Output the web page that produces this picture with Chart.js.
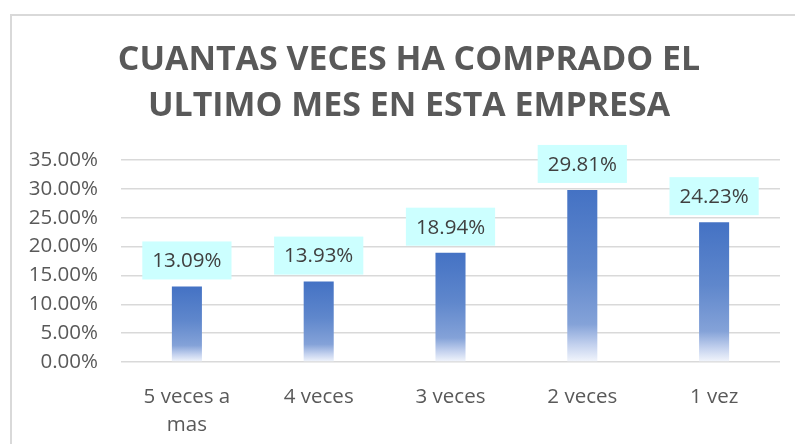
<!DOCTYPE html>
<html>
<head>
<meta charset="utf-8">
<script src="https://cdn.jsdelivr.net/npm/chart.js@4.4.0/dist/chart.umd.min.js"></script>
<style>
  html, body { margin: 0; padding: 0; background: #fff; overflow: hidden; }
  #frame {
    position: absolute; left: 10px; top: 14px;
    width: 800px; height: 500px;
    border: 2px solid #d9d9d9;
  }
  #wrap { position: absolute; left: 0; top: 0; width: 795px; height: 444px; }
</style>
</head>
<body>
<div id="frame"></div>
<div id="wrap"><canvas id="myChart" width="795" height="444"></canvas></div>
<script>
// Datos del grafico
const categorias = [['5 veces a', 'mas'], '4 veces', '3 veces', '2 veces', '1 vez'];
const porcentajes = [13.09, 13.93, 18.94, 29.81, 24.23];
const ticksY = [0, 5, 10, 15, 20, 25, 30, 35];

const FONT = '"Open Sans", sans-serif';

// Degradado de cada barra (azul arriba, casi blanco abajo)
function barGradient(context) {
  const chart = context.chart;
  const { ctx, chartArea, scales } = chart;
  if (!chartArea) return '#4472C4';
  const value = context.raw;
  const top = scales.y.getPixelForValue(value);
  const base = scales.y.getPixelForValue(0);
  const g = ctx.createLinearGradient(0, top, 0, base);
  g.addColorStop(0, '#4472C4');
  g.addColorStop(0.45, '#5f87cc');
  g.addColorStop(0.78, '#84a2d8');
  g.addColorStop(0.9, '#c3d1ee');
  g.addColorStop(1, '#f3f6fc');
  return g;
}

// Centrar el titulo sobre el marco (no sobre todo el canvas)
const titleShift = {
  id: 'titleShift',
  afterLayout(chart) {
    if (chart.titleBlock) {
      chart.titleBlock.left = 38;
      chart.titleBlock.right = chart.chartArea.right;
    }
  }
};

// Etiquetas de datos con caja celeste
const dataLabels = {
  id: 'dataLabels',
  afterDatasetsDraw(chart) {
    const { ctx } = chart;
    const meta = chart.getDatasetMeta(0);
    ctx.save();
    ctx.font = '20.5px ' + FONT;
    ctx.textAlign = 'center';
    ctx.textBaseline = 'middle';
    meta.data.forEach((bar, i) => {
      const txt = porcentajes[i].toFixed(2) + '%';
      const w = ctx.measureText(txt).width + 20;
      const h = 38;
      const bottom = bar.y - 7;
      ctx.fillStyle = '#ccffff';
      ctx.fillRect(bar.x - w / 2, bottom - h, w, h);
      ctx.fillStyle = '#404040';
      ctx.fillText(txt, bar.x, bottom - h / 2 + 1);
    });
    ctx.restore();
  }
};

const ctx = document.getElementById('myChart').getContext('2d');

const myChart = new Chart(ctx, {
  type: 'bar',
  data: {
    labels: categorias,
    datasets: [{
      data: porcentajes,
      backgroundColor: barGradient,
      borderWidth: 0,
      barPercentage: 0.228,
      categoryPercentage: 1
    }]
  },
  options: {
    responsive: false,
    animation: false,
    devicePixelRatio: 1,
    layout: { padding: { left: 0, right: 15, top: 0, bottom: 0 } },
    plugins: {
      legend: { display: false },
      tooltip: { enabled: false },
      title: {
        display: true,
        text: ['CUANTAS VECES HA COMPRADO EL', 'ULTIMO MES EN ESTA EMPRESA'],
        color: '#595959',
        font: { family: FONT, size: 33.9, weight: 'bold', lineHeight: 1.342 },
        padding: { top: 38, bottom: 31 }
      }
    },
    scales: {
      x: {
        afterFit(scale) { scale.height = 82; },
        grid: { display: false, drawTicks: false },
        border: { display: false },
        ticks: {
          color: '#595959',
          font: { family: FONT, size: 20.5, lineHeight: 1.37 },
          padding: 21,
          maxRotation: 0
        }
      },
      y: {
        min: 0,
        max: 35,
        afterFit(scale) { scale.width = 121; },
        afterBuildTicks(scale) { scale.ticks = ticksY.map(v => ({ value: v })); },
        grid: { color: '#d9d9d9', lineWidth: 1.5, drawTicks: false },
        border: { display: false },
        ticks: {
          color: '#595959',
          font: { family: FONT, size: 20.5 },
          padding: 23,
          callback: v => v.toFixed(2) + '%'
        }
      }
    }
  },
  plugins: [titleShift, dataLabels]
});
</script>
</body>
</html>
